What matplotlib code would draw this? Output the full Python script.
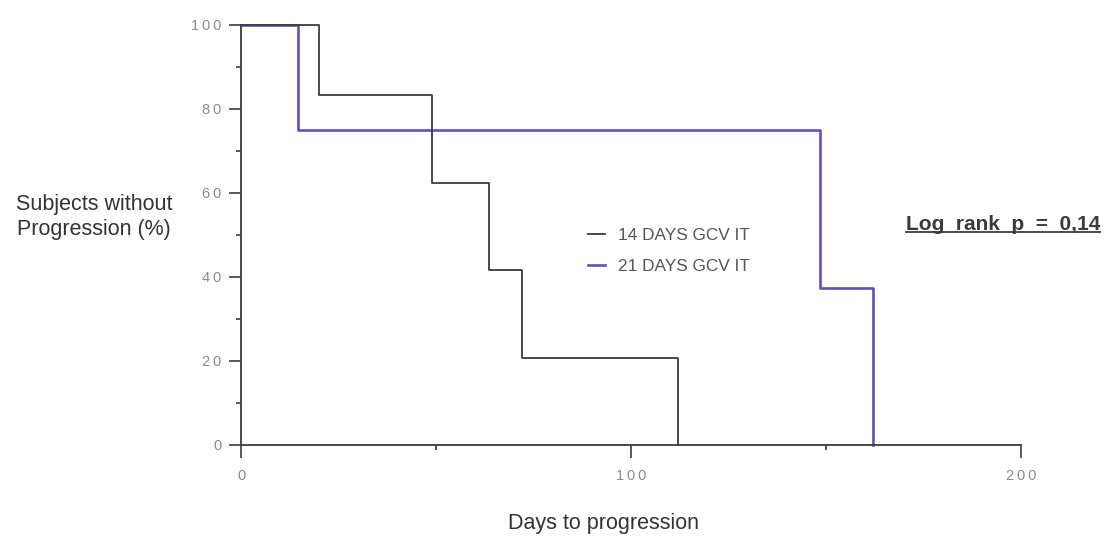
import matplotlib
matplotlib.use("Agg")
import matplotlib.pyplot as plt
from matplotlib.ticker import FixedLocator, FuncFormatter
from matplotlib.lines import Line2D

plt.rcParams['font.family'] = ['Liberation Sans', 'DejaVu Sans']

# Kaplan-Meier step data (days, % without progression)
days_14 = [0, 20, 49, 63.5, 72, 112]
surv_14 = [100, 83.3, 62.5, 41.7, 20.8, 0]
days_21 = [0, 14.5, 148.5, 162, 162]
surv_21 = [100, 75, 37.5, 0, 0]

series_labels = ["14 DAYS GCV IT", "21 DAYS GCV IT"]
x_major = [0, 100, 200]
x_minor = [50, 150]
y_major = [0, 20, 40, 60, 80, 100]
y_minor = [10, 30, 50, 70, 90]
p_text = "Log  rank  p  =  0,14"

dark = "#3c3c3c"
blue = "#5b52c2"
grey = "#8a8a8a"

fig = plt.figure(figsize=(11.05, 5.39), dpi=100)
fig.patch.set_facecolor("white")
ax = fig.add_axes([241 / 1105, 1 - 445 / 539, (1021 - 241) / 1105, (445 - 25) / 539])

ax.step(days_14, surv_14, where="post", color=dark, lw=1.3, clip_on=False,
        label=series_labels[0], zorder=3)
ax.step(days_21, surv_21, where="post", color=blue, lw=1.9, clip_on=False,
        label=series_labels[1], zorder=2)

ax.set_xlim(0, 200)
ax.set_ylim(0, 100)
for s in ("top", "right"):
    ax.spines[s].set_visible(False)
for s in ("left", "bottom"):
    ax.spines[s].set_color(dark)
    ax.spines[s].set_linewidth(1.3)

spaced = FuncFormatter(lambda v, _: "\u2009".join(str(int(v))))
ax.xaxis.set_major_locator(FixedLocator(x_major))
ax.xaxis.set_minor_locator(FixedLocator(x_minor))
ax.yaxis.set_major_locator(FixedLocator(y_major))
ax.yaxis.set_minor_locator(FixedLocator(y_minor))
ax.xaxis.set_major_formatter(spaced)
ax.yaxis.set_major_formatter(spaced)

ax.tick_params(axis="both", which="major", direction="out", length=9, width=1.2,
               color=dark, labelcolor=grey, labelsize=10.5)
ax.tick_params(axis="both", which="minor", direction="out", length=3.5, width=1.2,
               color=dark)
ax.tick_params(axis="x", which="major", pad=8)
ax.tick_params(axis="y", which="major", pad=5)

fig.text(94 / 1105, 1 - 217 / 539, "Subjects without\nProgression (%)",
         ha="center", va="center", fontsize=15.5, color="#333333", linespacing=1.3)
fig.text(604 / 1105, 1 - 523 / 539, "Days to progression",
         ha="center", va="center", fontsize=15.5, color="#333333")

leg = ax.legend(loc="center left", bbox_to_anchor=(572 / 1105, 1 - 251 / 539),
                bbox_transform=fig.transFigure, frameon=False, handlelength=1.0,
                handletextpad=0.75, labelspacing=0.9, fontsize=12.4,
                labelcolor="#555555")

ptxt = fig.text(1100 / 1105, 1 - 224 / 539, p_text, ha="right", va="center",
                fontsize=15, fontweight="bold", color="#3a3a3a")
fig.canvas.draw()
bb = ptxt.get_window_extent().transformed(fig.transFigure.inverted())
fig.add_artist(Line2D([bb.x0, bb.x1], [bb.y0 + 0.002, bb.y0 + 0.002],
                      transform=fig.transFigure, color="#3a3a3a", lw=1.3))

fig.savefig("out.png", dpi=100, facecolor="white")
